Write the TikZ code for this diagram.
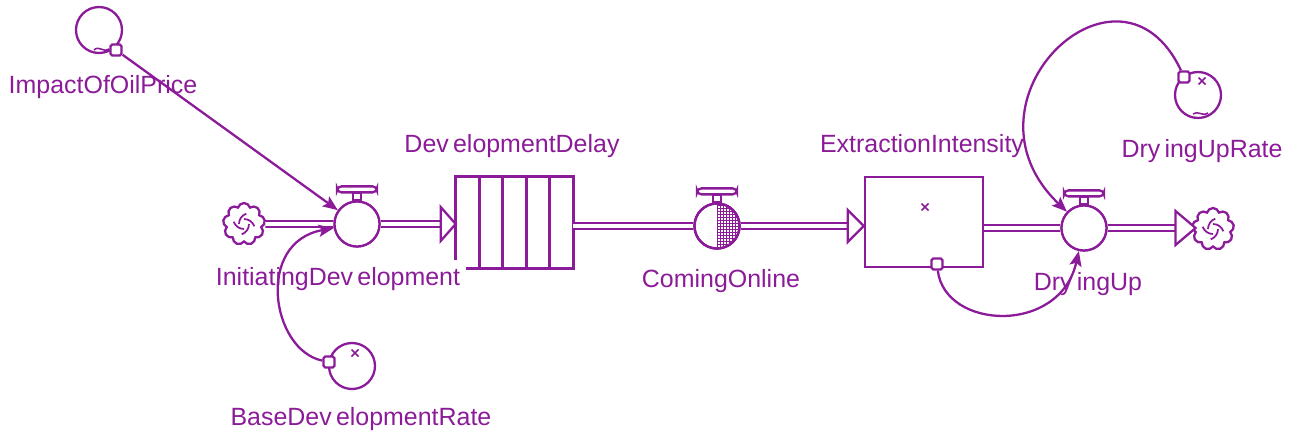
\documentclass[tikz,border=0pt]{standalone}
\usepackage{fontspec}
\setmainfont{Liberation Sans}
\usetikzlibrary{arrows.meta}
\usetikzlibrary{calc}
\usetikzlibrary{shapes.symbols}
\definecolor{sfink}{RGB}{139,27,152}
\newcommand\sfnamefont{\fontsize{14.2pt}{17pt}\selectfont\spaceskip=0.17em\relax}
\tikzset{
  sfline/.style={draw=sfink, line width=1.3pt},
  sfbox/.style={draw=sfink, line width=1.5pt},
  sfpipe/.style={draw=sfink, line width=1.2pt, double=white, double distance=2pt},
  sfpipetip/.style={draw=sfink, fill=white, line width=1.3pt, line join=miter},
  sfvalve/.style={circle, draw=sfink, fill=white, line width=1.3pt,
    minimum size=0.9cm, inner sep=0pt},
  sfaux/.style={circle, draw=sfink, line width=1.3pt, minimum size=0.92cm,
    inner sep=0pt},
  sftail/.style={draw=sfink, fill=white, line width=1.3pt, rounded corners=1pt,
    minimum size=0.22cm, inner sep=0pt},
  sflink/.style={draw=sfink, line width=1.3pt,
    -{Stealth[length=0.3cm, width=0.24cm, inset=0.06cm]}},
  sfname/.style={anchor=base, text=sfink, font=\sfnamefont},
  sfcloud/.style={cloud, cloud puffs=9, aspect=1, draw=sfink, fill=white,
    line width=1.3pt, minimum size=0.84cm, inner sep=0pt},
}

\begin{document}
\begin{tikzpicture}[x=0.02cm, y=-0.02cm]
\useasboundingbox (0,0) rectangle (1301,436);

% Auxiliaries.
\node[sfaux] (impact) at (99,30) {};
\node[sfaux] (baserate) at (352,366) {};
\node[sfaux] (dryrate) at (1198,95) {};
\draw[sfline, line width=0.9pt] (94,50) .. controls (99,45) and (103,53) .. (109,49);
\draw[sfline, line width=0.9pt] (1193,114) .. controls (1198,110) and (1202,117) .. (1208,113);
\foreach \p in {(355,353), (1202,81), (925,207)}
  \draw[sfline, line width=0.9pt] \p ++(-3.5,-3.5) -- ++(7,7) \p ++(-3.5,3.5) -- ++(7,-7);

% Stocks.
\node[minimum width=2.34cm, minimum height=1.82cm] (delay) at (514.5,222.5) {};
\draw[sfbox] ($(delay.south west)+(0,-8)$) -- (delay.north west)
  -- (delay.north east) -- (delay.south east) -- ($(delay.south west)+(10,0)$);
\foreach \f in {0.2,0.4,0.6,0.8}
  \draw[sfbox] ($(delay.north west)!\f!(delay.north east)$)
    -- ($(delay.south west)!\f!(delay.south east)$);
\node[sfbox, minimum width=2.36cm, minimum height=1.8cm] (extract) at (924,222) {};

% Clouds.
\node[sfcloud] (srccloud) at (244,224) {};
\node[sfcloud] (sinkcloud) at (1213,229) {};
\foreach \c in {srccloud, sinkcloud}
  \foreach \a in {0,90,180,270}
    \draw[sfline, line width=1pt] ($(\c.center)+(\a:5)$) arc[start angle=\a, delta angle=70, radius=11];

% Valves.
\node[sfvalve] (initiate) at (357,224) {};
\node[sfvalve] (online) at (717,226) {};
\node[sfvalve] (dryup) at (1084,228) {};

% Pipes.
\coordinate (initiatetip) at (delay.west |- initiate);
\coordinate (onlinetip) at (extract.west |- online);
\coordinate (dryuptip) at ($(sinkcloud.west |- dryup)+(4,0)$);
\draw[sfpipe] (srccloud) -- (initiate);
\draw[sfpipe] (initiate) -- ($(initiatetip)+(-15,0)$);
\draw[sfpipetip] (initiatetip) -- ++(-15,-17) -- ++(0,34) -- cycle;
\draw[sfpipe] (delay.east |- online) -- (online);
\draw[sfpipe] (online) -- ($(onlinetip)+(-16,0)$);
\draw[sfpipetip] (onlinetip) -- ++(-16,-16) -- ++(0,32) -- cycle;
\draw[sfpipe] (extract.east |- dryup) -- (dryup);
\draw[sfpipe] (dryup) -- ($(dryuptip)+(-20,0)$);
\draw[sfpipetip] (dryuptip) -- ++(-20,-17) -- ++(0,34) -- cycle;
\node[sfvalve] at (initiate) {};
\node[sfvalve] at (dryup) {};
\node[sfvalve] at (online) {};

% Half-hatched valve.
\begin{scope}
  \clip (online.center) circle[radius=22];
  \clip (online.north) rectangle ($(online.south)+(30,0)$);
  \foreach \d in {0,3,...,24}
    \draw[sfink, line width=0.55pt] ($(online.center)+(\d,-25)$) -- ++(0,50);
  \foreach \d in {-24,-21,...,24}
    \draw[sfink, line width=0.55pt] ($(online.center)+(0,\d)$) -- ++(25,0);
\end{scope}
\draw[sfline] (online.center) circle[radius=22.5];

% Valve handles.
\foreach \v in {initiate, online, dryup} {
  \draw[sfline, fill=white] ($(\v.north)+(-4,0)$) rectangle ($(\v.north)+(4,-8)$);
  \draw[sfline, fill=white, rounded corners=2.5pt]
    ($(\v.north)+(-20,-8)$) rectangle ($(\v.north)+(20,-14)$);
}

% Links.
\node[sftail] (impacttail) at (116,50) {};
\node[sftail] (basetail) at (329,362) {};
\node[sftail] (extracttail) at (937,264) {};
\node[sftail] (drytail) at (1184,77) {};
\draw[sflink] (impacttail) -- (initiate);
\draw[sflink] (basetail) .. controls +(-58,-12) and +(-102,18) .. (initiate);
\draw[sflink] (extracttail) .. controls +(8,66) and +(-24,107) .. (dryup);
\draw[sflink] (drytail) .. controls +(-64,-137) and +(-134,-128) .. (dryup);

% Names.
\node[sfname] (impactname) at (103,93) {ImpactOfOilPrice};
\node[sfname] (initiatename) at (338,285) {InitiatingDev elopment};
\node[sfname] (delayname) at (512,152) {Dev elopmentDelay};
\node[sfname] (onlinename) at (721,287) {ComingOnline};
\node[sfname] (extractname) at (922,152) {ExtractionIntensity};
\node[sfname] (dryratename) at (1202,157) {Dry ingUpRate};
\node[sfname] (dryupname) at (1088,290) {Dry ingUp};
\node[sfname] (basename) at (361,425) {BaseDev elopmentRate};

\end{tikzpicture}
\end{document}
